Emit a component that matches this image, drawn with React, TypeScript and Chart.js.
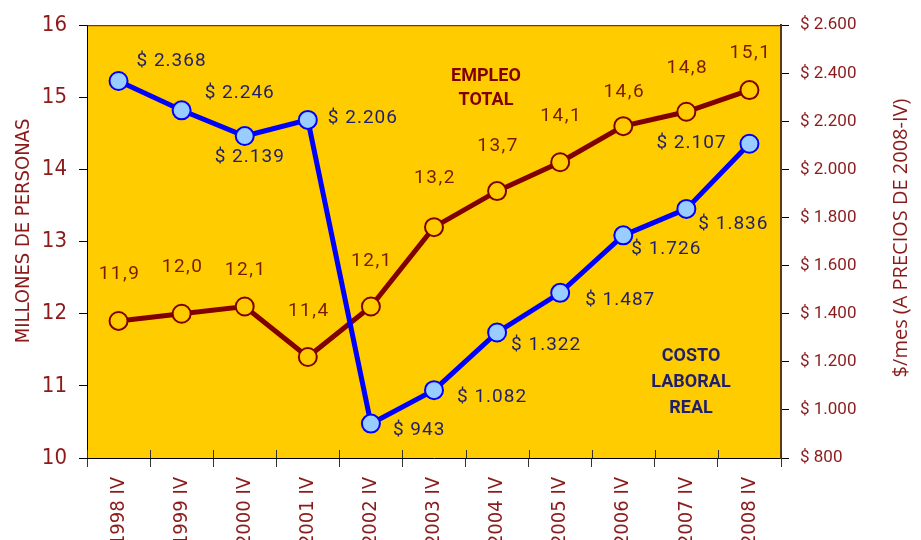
import React, { useEffect, useRef } from "react";
import { Chart, registerables } from "chart.js";

Chart.register(...registerables);

const categories = ["1998 IV", "1999 IV", "2000 IV", "2001 IV", "2002 IV", "2003 IV", "2004 IV", "2005 IV", "2006 IV", "2007 IV", "2008 IV"];
const empleo = [11.9, 12.0, 12.1, 11.4, 12.1, 13.2, 13.7, 14.1, 14.6, 14.8, 15.1];
const costo = [2368, 2246, 2139, 2206, 943, 1082, 1322, 1487, 1726, 1836, 2107];
const leftTicks = { min: 10, max: 16, step: 1 };
const rightTicks = { min: 800, max: 2600, step: 200 };
const leftTitle = "MILLONES DE PERSONAS";
const rightTitle = "$/mes (A PRECIOS DE 2008-IV)";
const empleoNote = ["EMPLEO", "TOTAL"];
const costoNote = ["COSTO", "LABORAL", "REAL"];

// label placement (style only)
const empleoLabelDy = [-47, -46, -36, -46, -45, -49, -45, -46, -34, -44, -37];
const costoLabelOffset: [number, number][] = [
  [18, -20], [23, -17], [-30, 21], [20, -2], [22, 7], [23, 7],
  [14, 13], [25, 7], [8, 14], [12, 15], [-93, 0],
];

const fmtThousands = (v: number) => {
  const s = Math.round(v).toString();
  return s.replace(/\B(?=(\d{3})+(?!\d))/g, ".");
};
const fmtDecimal = (v: number) => v.toFixed(1).replace(".", ",");

const DARK_RED = "#8B1A1A";
const LINE_RED = "#800000";
const NAVY = "#1F1F6E";
const NARROW = "'DejaVu Sans Condensed', 'Liberation Sans Narrow', Roboto, sans-serif";

const decorPlugin = {
  id: "decor",
  beforeDraw(chart: any) {
    const { ctx, chartArea: a } = chart;
    ctx.save();
    ctx.fillStyle = "#FFFFFF";
    ctx.fillRect(0, 0, chart.width, chart.height);
    ctx.fillStyle = "#FFCC00";
    ctx.fillRect(a.left, a.top, a.right - a.left, a.bottom - a.top);
    ctx.restore();
  },
  afterDraw(chart: any) {
    const { ctx, chartArea: a } = chart;
    const xs = chart.scales.x;
    ctx.save();
    ctx.strokeStyle = LINE_RED;
    ctx.lineWidth = 1;
    ctx.beginPath();
    ctx.moveTo(a.left, a.top + 0.5);
    ctx.lineTo(a.right, a.top + 0.5);
    ctx.stroke();
    ctx.strokeStyle = "#333333";
    const half = (xs.getPixelForValue(1) - xs.getPixelForValue(0)) / 2;
    for (let i = 0; i <= categories.length; i++) {
      const x = Math.round(xs.getPixelForValue(0) - half + i * half * 2) + 0.5;
      ctx.beginPath();
      ctx.moveTo(x, a.bottom - 8);
      ctx.lineTo(x, a.bottom);
      ctx.stroke();
    }
    ctx.fillStyle = DARK_RED;
    ctx.textAlign = "center";
    ctx.textBaseline = "middle";
    ctx.font = "20px " + NARROW;
    ctx.translate(24, 231);
    ctx.rotate(-Math.PI / 2);
    ctx.fillText(leftTitle, 0, 0);
    ctx.setTransform(1, 0, 0, 1, 0, 0);
    ctx.font = "20px 'Open Sans', sans-serif";
    ctx.translate(901, 238);
    ctx.rotate(-Math.PI / 2);
    ctx.fillText(rightTitle, 0, 0);
    ctx.setTransform(1, 0, 0, 1, 0, 0);
    ctx.font = "bold 18px Roboto, sans-serif";
    ctx.fillStyle = LINE_RED;
    empleoNote.forEach((t, i) => ctx.fillText(t, 486, 76 + i * 24));
    ctx.fillStyle = NAVY;
    costoNote.forEach((t, i) => ctx.fillText(t, 691, 356 + i * 26));
    ctx.font = "19px Roboto, sans-serif";
    const mCosto = chart.getDatasetMeta(0);
    const mEmp = chart.getDatasetMeta(1);
    (ctx as any).letterSpacing = "1.5px";
    ctx.fillStyle = "#7A1A00";
    ctx.textAlign = "center";
    mEmp.data.forEach((p: any, i: number) => {
      ctx.fillText(fmtDecimal(empleo[i]), p.x + 1, p.y + empleoLabelDy[i]);
    });
    (ctx as any).letterSpacing = "1px";
    ctx.fillStyle = NAVY;
    ctx.textAlign = "left";
    mCosto.data.forEach((p: any, i: number) => {
      const [dx, dy] = costoLabelOffset[i];
      ctx.fillText("$ " + fmtThousands(costo[i]), p.x + dx, p.y + dy);
    });
    ctx.restore();
  },
};

export default function App() {
  const ref = useRef<HTMLCanvasElement>(null);
  useEffect(() => {
    if (!ref.current) return;
    const chart = new Chart(ref.current, {
      type: "line",
      data: {
        labels: categories,
        datasets: [
          {
            label: "Costo laboral real",
            data: costo,
            yAxisID: "y1",
            order: 0,
            borderColor: "#0000FF",
            borderWidth: 5,
            pointRadius: 9,
            pointBorderWidth: 2,
            pointBackgroundColor: "#99CCFF",
            pointBorderColor: "#0000FF",
            tension: 0,
          },
          {
            label: "Empleo total",
            data: empleo,
            yAxisID: "y",
            order: 1,
            borderColor: LINE_RED,
            borderWidth: 5,
            pointRadius: 9,
            pointBorderWidth: 2,
            pointBackgroundColor: "#FFCC00",
            pointBorderColor: LINE_RED,
            tension: 0,
          },
        ],
      },
      options: {
        responsive: false,
        animation: false,
        devicePixelRatio: 1,
        layout: { padding: { top: 22, left: 0, right: 0, bottom: 0 } },
        plugins: { legend: { display: false }, tooltip: { enabled: false } },
        scales: {
          x: {
            offset: true,
            grid: { offset: true, drawOnChartArea: false, drawTicks: true, tickLength: 9, color: "#333333" },
            border: { display: true, color: "#000000", width: 1 },
            ticks: {
              maxRotation: 90,
              minRotation: 90,
              padding: 10,
              color: DARK_RED,
              font: { family: NARROW, size: 20 },
            },
            afterFit: (s: any) => { s.height = 82; },
          },
          y: {
            position: "left",
            min: leftTicks.min,
            max: leftTicks.max,
            ticks: {
              stepSize: leftTicks.step,
              padding: 12,
              color: DARK_RED,
              font: { family: NARROW, size: 22 },
            },
            grid: { drawOnChartArea: false, drawTicks: true, tickLength: 8, color: "#000000" },
            border: { display: true, color: "#000000", width: 1 },
            afterFit: (s: any) => { s.width = 87; },
          },
          y1: {
            position: "right",
            min: rightTicks.min,
            max: rightTicks.max,
            ticks: {
              stepSize: rightTicks.step,
              padding: 11,
              color: DARK_RED,
              font: { family: "Roboto, sans-serif", size: 17 },
              callback: (v: any) => "$ " + fmtThousands(Number(v)),
            },
            grid: { drawOnChartArea: false, drawTicks: true, tickLength: 8, color: "#000000" },
            border: { display: true, color: "#5A3A10", width: 2 },
            afterFit: (s: any) => { s.width = 140; },
          },
        },
      },
      plugins: [decorPlugin],
    });
    return () => chart.destroy();
  }, []);
  return (
    <div style={{ position: "absolute", left: 0, top: 0, width: 921, height: 540 }}>
      <canvas ref={ref} width={921} height={540} />
    </div>
  );
}
